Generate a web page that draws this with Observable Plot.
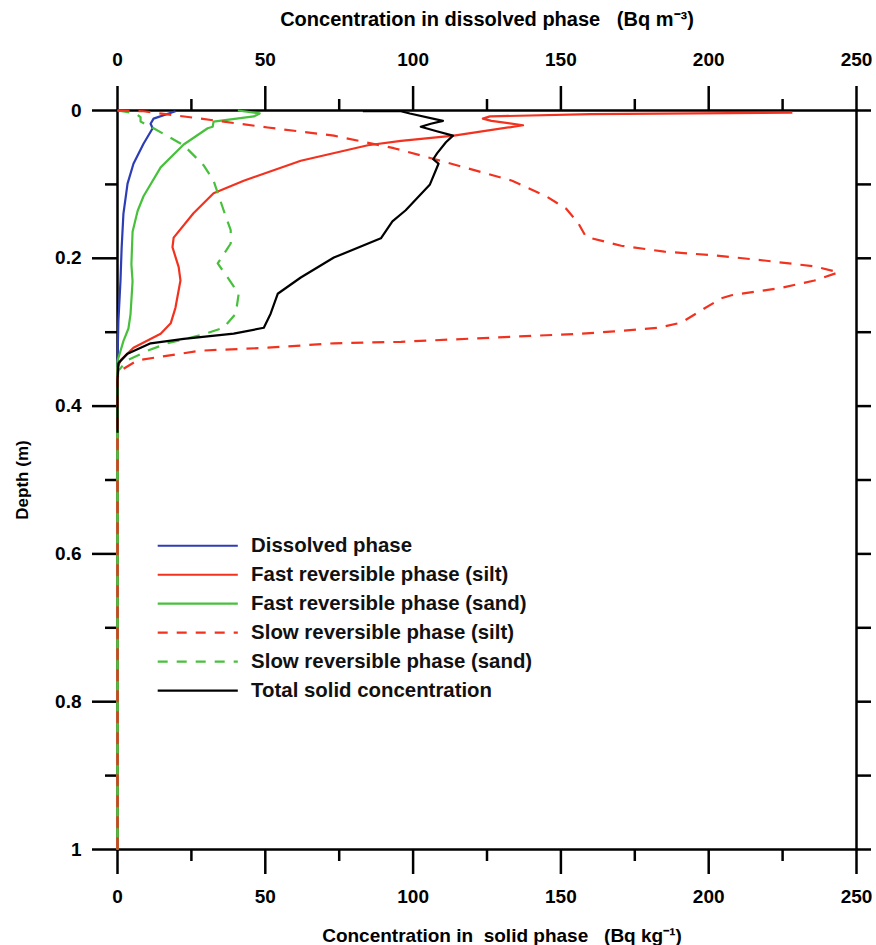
<!DOCTYPE html>
<html>
<head>
<meta charset="utf-8">
<script src="https://cdn.jsdelivr.net/npm/d3@7"></script>
<script src="https://cdn.jsdelivr.net/npm/@observablehq/plot@0.6"></script>
<style>
  html, body { margin: 0; padding: 0; background: #ffffff; }
  #chart { width: 876px; height: 945px; }
</style>
</head>
<body>
<div id="chart"></div>
<script>
// ---------- data ----------
const seriesNames = [
  "Dissolved phase",
  "Fast reversible phase (silt)",
  "Fast reversible phase (sand)",
  "Slow reversible phase (silt)",
  "Slow reversible phase (sand)",
  "Total solid concentration"
];

// Dissolved phase (top axis, Bq m-3)
const dissolvedDepth = [0.001, 0.011, 0.018, 0.024, 0.045, 0.072, 0.099, 0.14, 0.186, 0.231, 0.285, 0.32, 0.36, 1.0];
const dissolvedValue = [19.6, 12.2, 11.2, 11.9, 8.8, 5.4, 3.4, 2.0, 1.4, 1.0, 0.3, 0.1, 0, 0];

// Fast reversible phase (silt)
const fastSiltDepth = [0.003, 0.005, 0.008, 0.011, 0.014, 0.020, 0.034, 0.041, 0.047, 0.068, 0.095, 0.112, 0.139, 0.172, 0.185, 0.212, 0.230, 0.267, 0.288, 0.302, 0.321, 0.338, 0.349, 1.0];
const fastSiltValue = [228.3, 160.0, 126.0, 123.6, 126.5, 137.2, 113.8, 95.9, 84.7, 62.0, 42.7, 32.5, 25.7, 19.0, 18.6, 20.7, 21.3, 19.6, 18.0, 14.6, 5.4, 1.0, 0, 0];

// Fast reversible phase (sand)
const fastSandDepth = [0.000, 0.004, 0.008, 0.015, 0.022, 0.024, 0.046, 0.077, 0.116, 0.136, 0.164, 0.208, 0.231, 0.276, 0.295, 0.312, 0.339, 1.0];
const fastSandValue = [40.7, 48.1, 46.1, 32.5, 32.2, 30.5, 22.4, 14.6, 8.8, 6.8, 5.1, 4.7, 5.1, 4.4, 3.7, 2.0, 0, 0];

// Slow reversible phase (silt)
const slowSiltDepth = [0.000, 0.001, 0.011, 0.023, 0.034, 0.051, 0.070, 0.095, 0.116, 0.133, 0.152, 0.171, 0.183, 0.191, 0.196, 0.203, 0.211, 0.219, 0.230, 0.240, 0.250, 0.254, 0.268, 0.287, 0.294, 0.299, 0.302, 0.313, 0.315, 0.321, 0.325, 0.338, 0.352, 0.361, 1.0];
const slowSiltValue = [0, 8.8, 28.1, 50.8, 73.2, 93.5, 111.1, 133.5, 145.0, 151.8, 155.8, 158.5, 170.4, 185.0, 201.9, 218.8, 235.8, 243.9, 235.8, 224.6, 207.7, 204.3, 198.5, 190.7, 182.9, 168.0, 156.8, 95.9, 73.2, 50.8, 28.1, 6.8, 1.0, 0, 0];

// Slow reversible phase (sand)
const slowSandDepth = [0.000, 0.004, 0.009, 0.015, 0.024, 0.047, 0.074, 0.095, 0.135, 0.162, 0.180, 0.207, 0.226, 0.248, 0.275, 0.294, 0.304, 0.315, 0.325, 0.338, 0.352, 0.365, 1.0];
const slowSandValue = [0, 6.1, 7.8, 7.8, 12.2, 22.4, 29.1, 32.5, 35.9, 38.3, 38.3, 33.9, 37.3, 41.0, 40.0, 35.9, 28.1, 16.9, 10.2, 3.4, 0.3, 0, 0];

// Total solid concentration
const totalDepth = [0.001, 0.001, 0.004, 0.014, 0.018, 0.022, 0.028, 0.034, 0.043, 0.058, 0.066, 0.072, 0.100, 0.135, 0.150, 0.173, 0.199, 0.226, 0.248, 0.275, 0.294, 0.302, 0.309, 0.315, 0.329, 0.342, 0.365, 0.436];
const totalValue = [83.0, 95.9, 98.9, 110.1, 106.0, 102.6, 108.0, 113.5, 111.1, 108.1, 106.8, 108.6, 105.7, 97.5, 93.0, 89.1, 73.2, 62.0, 54.2, 51.8, 49.5, 39.3, 22.4, 11.2, 3.4, 0.3, 0, 0];

// axis ticks
const xMajorTicks = [0, 50, 100, 150, 200, 250];
const xMinorTicks = [25, 75, 125, 175, 225];
const yMajorTicks = [0, 0.2, 0.4, 0.6, 0.8, 1];
const yMinorTicks = [0.1, 0.3, 0.5, 0.7, 0.9];
const yAllTicks = [0, 0.1, 0.2, 0.3, 0.4, 0.5, 0.6, 0.7, 0.8, 0.9, 1];

const topTitle = "Concentration in dissolved phase   (Bq m\u207B\u00B3)";
const bottomTitle = "Concentration in  solid phase   (Bq kg\u207B\u00B9)";
const yTitle = "Depth (m)";

// ---------- build tables ----------
const toRows = (depth, value) => depth.map((d, i) => ({depth: d, value: value[i]}));
const series = [
  toRows(dissolvedDepth, dissolvedValue),
  toRows(fastSiltDepth, fastSiltValue),
  toRows(fastSandDepth, fastSandValue),
  toRows(slowSiltDepth, slowSiltValue),
  toRows(slowSandDepth, slowSandValue),
  toRows(totalDepth, totalValue)
];

// styles
const BLUE = "#2c3db5", RED = "#f2321f", GREEN = "#47c03c", BLACK = "#000000";
const colors = [BLUE, RED, GREEN, RED, GREEN, BLACK];
const dashes = [null, null, null, "12,9", "12,9", null];
const drawOrder = [0, 1, 2, 4, 3, 5];

// legend layout (in data units of the chart)
const LEG_X1 = 13.6, LEG_X2 = 40.7, LEG_TX = 45.2, LEG_Y0 = 0.589, LEG_DY = 0.0392;
const legendRows = seriesNames.map((name, i) => ({
  name, i, y: LEG_Y0 + i * LEG_DY, x1: LEG_X1, x2: LEG_X2, tx: LEG_TX
}));

const FONT = "Liberation Sans, Arial, Helvetica, sans-serif";
const AX = {fontSize: 19, fontWeight: "bold", strokeWidth: 2.5, label: null};

const marks = [
  Plot.frame({strokeWidth: 2.5}),
  // axes
  Plot.axisX({...AX, anchor: "bottom", ticks: xMajorTicks, tickSize: 25, tickPadding: 15}),
  Plot.axisX({...AX, anchor: "bottom", ticks: xMinorTicks, tickSize: 12, tickFormat: () => ""}),
  Plot.axisX({...AX, anchor: "top", ticks: xMajorTicks, tickSize: 25, tickPadding: 20}),
  Plot.axisX({...AX, anchor: "top", ticks: xMinorTicks, tickSize: 12, tickFormat: () => ""}),
  Plot.axisY({...AX, anchor: "left", ticks: yMajorTicks, tickSize: 25, tickPadding: 11, tickFormat: d => String(d)}),
  Plot.axisY({...AX, anchor: "left", ticks: yMinorTicks, tickSize: 12, tickFormat: () => ""}),
  Plot.axisY({...AX, anchor: "right", ticks: yAllTicks, tickSize: 14, tickFormat: () => ""})
];

for (const k of drawOrder) {
  marks.push(Plot.line(series[k], {
    x: "value", y: "depth",
    stroke: colors[k], strokeWidth: 2.2,
    strokeDasharray: dashes[k] || undefined,
    strokeLinejoin: "round", strokeLinecap: "butt"
  }));
}

// legend
legendRows.forEach(r => {
  marks.push(Plot.link([r], {
    x1: "x1", x2: "x2", y1: "y", y2: "y",
    stroke: colors[r.i], strokeWidth: 2.2,
    strokeDasharray: dashes[r.i] ? "10,9" : undefined
  }));
});
marks.push(Plot.text(legendRows, {
  x: "tx", y: "y", text: "name", textAnchor: "start", lineAnchor: "middle",
  fontSize: 20.4, fontWeight: "bold", fill: "#111"
}));

// titles
marks.push(Plot.text([topTitle], {frameAnchor: "top", dy: -91, text: d => d, textAnchor: "middle", lineAnchor: "middle", fontSize: 20, fontWeight: "bold"}));
marks.push(Plot.text([bottomTitle], {frameAnchor: "bottom", dx: 15, dy: 86, text: d => d, textAnchor: "middle", lineAnchor: "middle", fontSize: 19, fontWeight: "bold"}));
marks.push(Plot.text([yTitle], {frameAnchor: "left", dx: -95, rotate: -90, text: d => d, textAnchor: "middle", lineAnchor: "middle", fontSize: 17, fontWeight: "bold"}));

const chart = Plot.plot({
  width: 876,
  height: 945,
  marginLeft: 117,
  marginRight: 20,
  marginTop: 110,
  marginBottom: 96,
  style: {fontFamily: FONT, background: "#ffffff", color: "#000"},
  x: {domain: [0, 250]},
  y: {domain: [0, 1], reverse: true},
  marks
});
document.getElementById("chart").appendChild(chart);
</script>
</body>
</html>
